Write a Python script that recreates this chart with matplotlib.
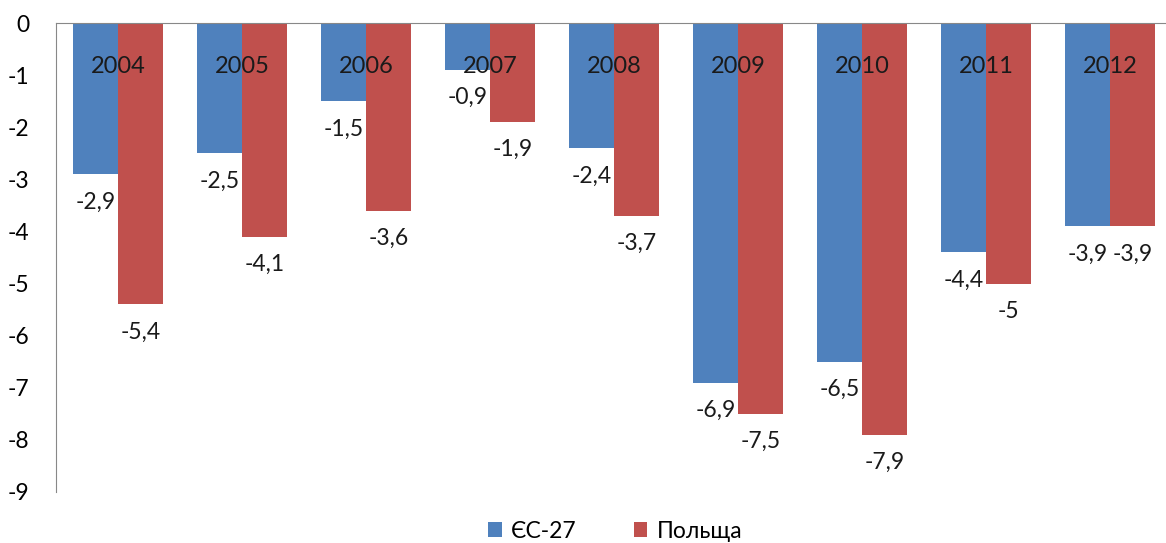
import numpy as np
import matplotlib.pyplot as plt

plt.rcParams['font.family'] = ['Lato', 'DejaVu Sans']

years = ['2004', '2005', '2006', '2007', '2008', '2009', '2010', '2011', '2012']
eu27 = [-2.9, -2.5, -1.5, -0.9, -2.4, -6.9, -6.5, -4.4, -3.9]
poland = [-5.4, -4.1, -3.6, -1.9, -3.7, -7.5, -7.9, -5.0, -3.9]
series_names = ['ЄС-27', 'Польща']

blue = '#4F81BD'
red = '#C0504D'

fig = plt.figure(figsize=(11.66, 5.43), dpi=100)
ax = fig.add_axes([56 / 1166, 1 - 492 / 543, 1116 / 1166, 469 / 543])

x = np.arange(len(years))
w = 0.365
b1 = ax.bar(x - w / 2, eu27, w, color=blue, label=series_names[0])
b2 = ax.bar(x + w / 2, poland, w, color=red, label=series_names[1])

def fmt(v):
	s = '{:g}'.format(v)
	return s.replace('.', ',')

for xs, vals in ((x - w / 2, eu27), (x + w / 2, poland)):
	for xi, v in zip(xs, vals):
		ax.annotate(fmt(v), (xi, v), xytext=(0, -20), textcoords='offset points',
		            ha='center', va='center', fontsize=16.5, color='#1a1a1a')

# category labels sit just under the zero line, over the bars
for xi, yr in zip(x, years):
	ax.text(xi, -0.84, yr, ha='center', va='center', fontsize=17, color='#1a1a1a')

ax.set_xlim(-0.5, len(years) - 0.5)
ax.set_ylim(-9, 0)
ax.set_yticks(np.arange(-9, 1, 1))
ax.set_yticklabels([str(t) for t in range(-9, 1)], fontsize=16.5)
ax.tick_params(axis='y', length=0, pad=19)
ax.set_xticks([])

for s in ('right', 'bottom'):
	ax.spines[s].set_visible(False)
ax.spines['left'].set_color('#888888')
ax.spines['top'].set_color('#888888')

fig.legend(handles=[b1, b2], loc='center', bbox_to_anchor=(615 / 1166, 1 - 531 / 543),
           ncol=2, frameon=False, fontsize=16.5, handlelength=0.6, handleheight=0.6,
           columnspacing=2.5, handletextpad=0.4)

fig.savefig('out.png', dpi=100)
